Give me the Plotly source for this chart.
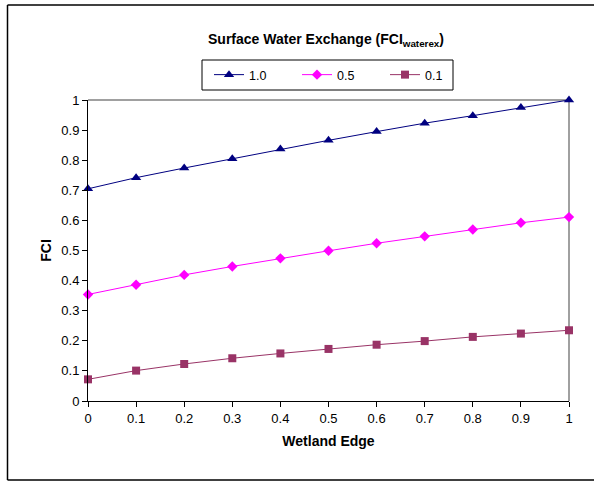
import plotly.graph_objects as go

x_vals = [0, 0.1, 0.2, 0.3, 0.4, 0.5, 0.6, 0.7, 0.8, 0.9, 1.0]
s_10 = [0.705, 0.742, 0.774, 0.805, 0.837, 0.866, 0.895, 0.923, 0.948, 0.975, 1.0]
s_05 = [0.354, 0.386, 0.419, 0.447, 0.474, 0.499, 0.524, 0.547, 0.570, 0.592, 0.611]
s_01 = [0.072, 0.101, 0.123, 0.142, 0.158, 0.173, 0.187, 0.199, 0.213, 0.224, 0.235]
series_names = ["1.0", "0.5", "0.1"]
x_ticks = [0, 0.1, 0.2, 0.3, 0.4, 0.5, 0.6, 0.7, 0.8, 0.9, 1]
x_ticklabels = ["0", "0.1", "0.2", "0.3", "0.4", "0.5", "0.6", "0.7", "0.8", "0.9", "1"]
y_ticks = [0, 0.1, 0.2, 0.3, 0.4, 0.5, 0.6, 0.7, 0.8, 0.9, 1]
y_ticklabels = ["0", "0.1", "0.2", "0.3", "0.4", "0.5", "0.6", "0.7", "0.8", "0.9", "1"]

FONT = "Liberation Sans, Arial, sans-serif"

fig = go.Figure()
styles = [
    (s_10, "#000080", "triangle-up", 9),
    (s_05, "#FF00FF", "diamond", 8),
    (s_01, "#993366", "square", 8),
]
for name, (vals, col, sym, sz) in zip(series_names, styles):
    fig.add_trace(go.Scatter(
        x=x_vals, y=vals, name=name, mode="lines+markers",
        line=dict(color=col, width=1),
        marker=dict(symbol=sym, size=sz, color=col),
        cliponaxis=False,
    ))

W, H = 594, 482
L, R, T, B = 88, 25, 100, 81
pw = W - L - R
ph = H - T - B

def px_x(p):
    return (p - L) / pw

def px_y(p):
    return (H - B - p) / ph

border = dict(color="black", width=1.5)
fig.update_layout(
    width=W, height=H,
    margin=dict(l=L, r=R, t=T, b=B),
    paper_bgcolor="white", plot_bgcolor="white",
    font=dict(family=FONT, size=13, color="black"),
    title=dict(
        text="<b>Surface Water Exchange (FCI<sub>waterex</sub>)</b>",
        x=px_x(326), xanchor="center", xref="paper",
        y=1 - 39 / H, yanchor="middle", yref="container",
        font=dict(size=14, family=FONT, color="black"),
    ),
    legend=dict(
        orientation="h",
        x=px_x(209), xanchor="left",
        y=px_y(60), yanchor="top",
        borderwidth=0,
        bgcolor="rgba(0,0,0,0)",
        font=dict(size=12.5, family=FONT),
        entrywidth=43,
        itemwidth=30,
    ),
    xaxis=dict(
        range=[0, 1], tickvals=x_ticks, ticktext=x_ticklabels,
        showgrid=False, zeroline=False,
        showline=True, linecolor="black", linewidth=1,
        ticks="outside", ticklen=5, tickcolor="black",
        tickfont=dict(size=13),
        title=dict(text="<b>Wetland Edge</b>", font=dict(size=14, family=FONT), standoff=11),
        fixedrange=True,
    ),
    yaxis=dict(
        range=[0, 1], tickvals=y_ticks, ticktext=y_ticklabels,
        showgrid=False, zeroline=False,
        showline=True, linecolor="black", linewidth=1,
        ticks="outside", ticklen=5, tickcolor="black",
        tickfont=dict(size=13),
        title=dict(text="<b>FCI</b>", font=dict(size=14, family=FONT), standoff=6),
        fixedrange=True,
    ),
    shapes=[
        dict(type="line", xref="paper", yref="paper", x0=0, x1=1, y0=1, y1=1,
             line=dict(color="#808080", width=1.5), layer="below"),
        dict(type="line", xref="paper", yref="paper", x0=1, x1=1, y0=0, y1=1,
             line=dict(color="#808080", width=1.5), layer="below"),
        # outer chart frame (top, left, bottom)
        dict(type="line", xref="paper", yref="paper",
             x0=px_x(7.5), x1=px_x(594), y0=px_y(5), y1=px_y(5), line=border),
        dict(type="line", xref="paper", yref="paper",
             x0=px_x(7.5), x1=px_x(7.5), y0=px_y(5), y1=px_y(480), line=border),
        dict(type="line", xref="paper", yref="paper",
             x0=px_x(7.5), x1=px_x(594), y0=px_y(480), y1=px_y(480), line=border),
        # legend box
        dict(type="rect", xref="paper", yref="paper",
             x0=px_x(202), x1=px_x(453), y0=px_y(60), y1=px_y(90),
             line=dict(color="black", width=1), fillcolor="rgba(0,0,0,0)"),
    ],
)

fig.write_html(
    "out.html",
    config={"displayModeBar": False},
    post_script=(
        "document.documentElement.style.overflow='hidden';"
        "document.body.style.margin='0';"
        "document.body.style.overflow='hidden';"
    ),
)
